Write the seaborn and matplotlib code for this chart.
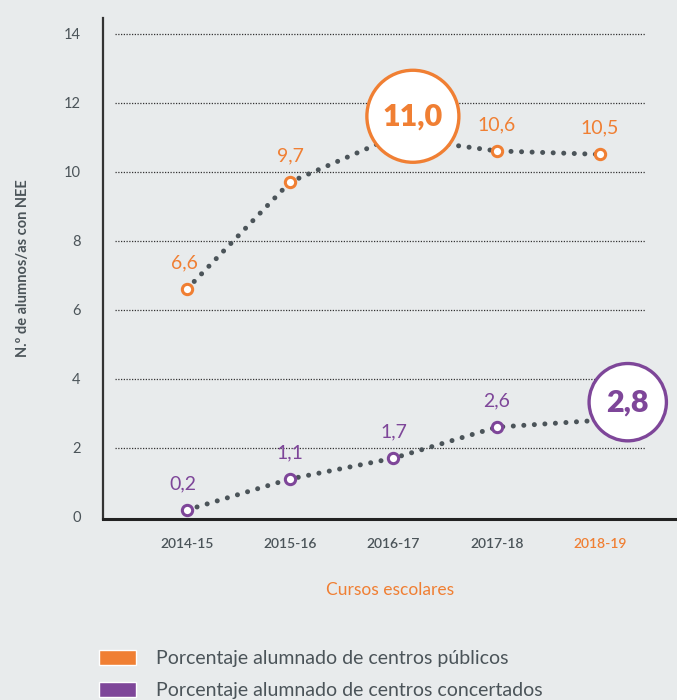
import numpy as np
import pandas as pd
import seaborn as sns
import matplotlib.pyplot as plt
from matplotlib.patches import Patch

cursos = ['2014-15', '2015-16', '2016-17', '2017-18', '2018-19']
publicos = [6.6, 9.7, 11.0, 10.6, 10.5]
concertados = [0.2, 1.1, 1.7, 2.6, 2.8]
etiquetas_pub = ['6,6', '9,7', '11,0', '10,6', '10,5']
etiquetas_con = ['0,2', '1,1', '1,7', '2,6', '2,8']
yticks = [0, 2, 4, 6, 8, 10, 12, 14]

naranja = '#F07F33'
morado = '#7E4699'
gris = '#4B5459'
fondo = '#E8EBEC'

sns.set_theme(style='white')
plt.rcParams['font.family'] = ['Lato', 'DejaVu Sans']

fig = plt.figure(figsize=(6.77, 7.0), dpi=100, facecolor=fondo)
ax = fig.add_axes([0.152, 0.2586, 0.848, 0.7157])
ax.set_facecolor(fondo)

x = np.arange(len(cursos))
df = pd.DataFrame({'x': x, 'pub': publicos, 'con': concertados})

# dotted connecting lines
for col in ['pub', 'con']:
    sns.lineplot(data=df, x='x', y=col, ax=ax, color=gris, lw=3.6,
                 linestyle=(0, (0.01, 2.1)), dash_capstyle='round', zorder=2)

# open markers (the highlighted ones are hidden by the big circles)
sns.scatterplot(data=df, x='x', y='pub', ax=ax, s=55, color='white',
                edgecolor=naranja, linewidth=2.2, zorder=3)
sns.scatterplot(data=df, x='x', y='con', ax=ax, s=55, color='white',
                edgecolor=morado, linewidth=2.2, zorder=3)

# value labels
for i in range(len(cursos)):
    if i == 2:
        ax.annotate(etiquetas_pub[i], (x[i], publicos[i]), xytext=(14, 15),
                    textcoords='offset points', ha='center', va='center',
                    fontsize=22, fontweight='heavy', color=naranja, zorder=6,
                    bbox=dict(boxstyle='circle,pad=0.52', fc='white', ec=naranja, lw=2.4))
    else:
        ax.annotate(etiquetas_pub[i], (x[i], publicos[i]), xytext=(-2 if i == 0 else 0, 19),
                    textcoords='offset points', ha='center', va='center',
                    fontsize=14, color=naranja)
    if i == 4:
        ax.annotate(etiquetas_con[i], (x[i], concertados[i]), xytext=(20, 13),
                    textcoords='offset points', ha='center', va='center',
                    fontsize=22, fontweight='heavy', color=morado, zorder=6,
                    bbox=dict(boxstyle='circle,pad=0.57', fc='white', ec=morado, lw=2.4))
    else:
        ax.annotate(etiquetas_con[i], (x[i], concertados[i]), xytext=(-3 if i == 0 else 0, 19),
                    textcoords='offset points', ha='center', va='center',
                    fontsize=14, color=morado)

# dotted gridlines
ax.hlines(yticks[1:], -0.70, 4.44, colors='#333333', lw=0.9,
          linestyles=(0, (1, 1.2)), zorder=1)

ax.set_xlim(-0.8136, 4.746)
ax.set_ylim(-0.06, 14.45)
ax.set_xticks(x)
ax.set_xticklabels(cursos)
ax.set_yticks(yticks)
ax.tick_params(axis='x', direction='in', length=11.5, width=1.2, color='#222222',
               pad=14, labelsize=10, labelcolor=gris)
ax.tick_params(axis='y', length=0, pad=16, labelsize=10.5, labelcolor=gris)
for lab in ax.get_xticklabels():
    lab.set_fontweight('semibold')
ax.get_xticklabels()[-1].set_color(naranja)
ax.get_xticklines()[-2].set_color(naranja)

for s in ['top', 'right']:
    ax.spines[s].set_visible(False)
ax.spines['left'].set_color('#333333')
ax.spines['left'].set_linewidth(1.6)
ax.spines['bottom'].set_color('#222222')
ax.spines['bottom'].set_linewidth(2.2)

ax.set_xlabel('Cursos escolares', fontsize=12.5, color=naranja, labelpad=23)
ax.set_ylabel('N.º de alumnos/as con NEE', fontsize=10.5, fontweight='bold',
              color=gris, labelpad=24)

handles = [Patch(facecolor=naranja, label='Porcentaje alumnado de centros públicos'),
           Patch(facecolor=morado, label='Porcentaje alumnado de centros concertados')]
fig.legend(handles=handles, loc='upper left', bbox_to_anchor=(0.121, 0.097),
           frameon=False, fontsize=14, labelcolor=gris, handlelength=1.9,
           handleheight=0.85, handletextpad=1.0, labelspacing=0.75)

fig.savefig('out.png', dpi=100, facecolor=fondo)
